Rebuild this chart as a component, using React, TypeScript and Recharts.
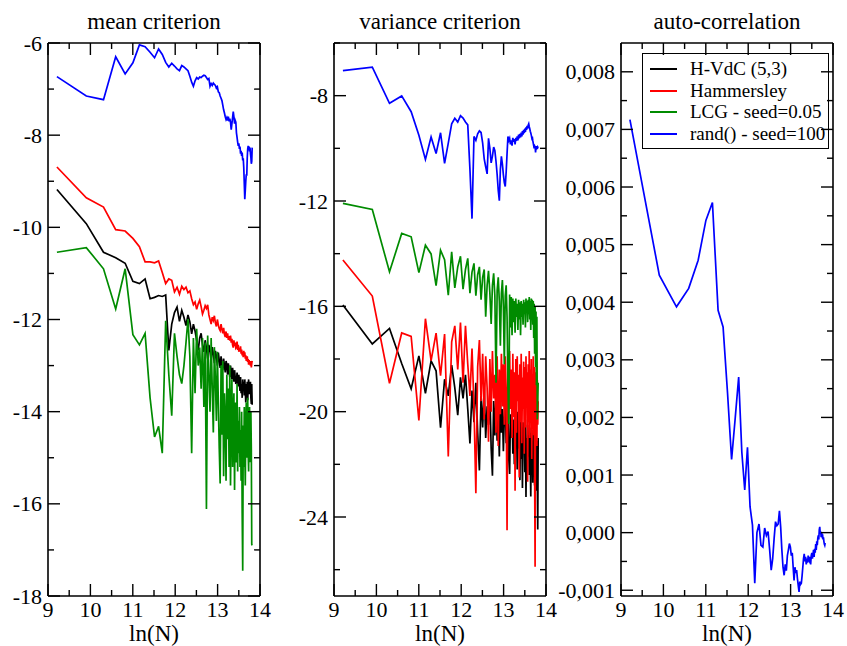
import { LineChart, Line, XAxis, YAxis, ReferenceLine, Legend } from 'recharts';

// sample sizes N = 10000 .. 1000000, plotted as ln(N)
const sampleSizes = Array.from({ length: 100 }, (_, i) => 10000 * (i + 1));
const lnN = sampleSizes.map((n) => Math.log(n));

const xMajorTicks = [9, 10, 11, 12, 13, 14];
const xMinorTicks = [9.5, 10.5, 11.5, 12.5, 13.5];

const meanMajorTicks = [-18, -16, -14, -12, -10, -8, -6];
const meanMinorTicks = [-17, -15, -13, -11, -9, -7];
const varMajorTicks = [-24, -20, -16, -12, -8];
const varMinorTicks = [-26, -22, -18, -14, -10, -6];
const autoMajorTicks = [-0.001, 0, 0.001, 0.002, 0.003, 0.004, 0.005, 0.006, 0.007, 0.008];
const autoMinorTicks = [-0.0005, 0.0005, 0.0015, 0.0025, 0.0035, 0.0045, 0.0055, 0.0065, 0.0075];

const seriesNames = ['H-VdC (5,3)', 'Hammersley', 'LCG - seed=0.05', 'rand() - seed=100'];
const seriesKeys = ['hvdc', 'ham', 'lcg', 'rand'];
const seriesColors = ['#000000', '#ff0000', '#008b00', '#0000ff'];

// mean criterion
const meanHvdc = [
  -9.18, -9.92, -10.54, -10.66, -10.78, -11.17, -11.22, -11.12, -11.55, -11.52,
  -11.48, -11.5, -11.47, -12.67, -12.1, -11.85, -11.73, -12.04, -11.8, -11.95,
  -12.13, -11.9, -12.05, -12.31, -12.1, -12.25, -12.45, -12.67, -12.4, -12.3,
  -12.55, -12.7, -12.45, -12.62, -12.85, -12.55, -12.7, -12.9, -12.6, -12.75,
  -12.95, -12.68, -12.8, -13.0, -12.72, -12.88, -13.05, -12.8, -12.95, -13.1,
  -12.85, -13.0, -13.15, -12.9, -12.98, -13.2, -12.95, -13.1, -13.25, -13.0,
  -13.15, -13.3, -13.05, -13.2, -13.35, -13.1, -13.25, -13.4, -13.33, -13.15,
  -13.3, -13.45, -13.2, -13.38, -13.55, -13.25, -13.6, -13.4, -13.7, -13.3,
  -13.5, -13.35, -13.65, -13.3, -13.55, -13.8, -13.4, -13.6, -13.35, -13.75,
  -13.45, -13.3, -13.62, -13.4, -13.55, -13.35, -13.7, -13.83, -13.4, -13.85,
];
const meanHam = [
  -8.69, -9.36, -9.56, -10.05, -10.08, -10.24, -10.42, -10.75, -10.75, -10.77,
  -10.73, -10.98, -11.22, -11.12, -11.15, -11.4, -11.3, -11.45, -11.28, -11.35,
  -11.3, -11.42, -11.38, -11.55, -11.68, -11.62, -11.78, -11.66, -11.58, -11.72,
  -11.88, -11.8, -11.7, -11.76, -11.68, -11.9, -12.0, -12.1, -11.95, -12.02,
  -11.92, -12.08, -12.15, -12.0, -12.12, -12.2, -12.24, -12.1, -12.22, -12.3,
  -12.18, -12.32, -12.38, -12.26, -12.4, -12.3, -12.44, -12.36, -12.46, -12.35,
  -12.5, -12.42, -12.55, -12.61, -12.45, -12.58, -12.5, -12.62, -12.6, -12.48,
  -12.66, -12.55, -12.7, -12.62, -12.69, -12.58, -12.74, -12.65, -12.78, -12.7,
  -12.82, -12.68, -12.76, -12.71, -12.85, -12.78, -12.9, -12.85, -12.8, -12.92,
  -12.86, -12.98, -12.88, -12.95, -12.92, -13.0, -12.9, -13.04, -12.96, -12.9,
];
const meanLcg = [
  -10.54, -10.44, -10.9, -11.77, -10.9, -12.33, -12.55, -12.3, -13.7, -14.55,
  -14.32, -14.9, -12.03, -13.2, -14.09, -12.3, -12.8, -13.2, -13.39, -13.0,
  -12.5, -11.99, -12.8, -14.9, -12.4, -13.6, -12.2, -13.0, -12.61, -13.5,
  -12.4, -13.9, -12.5, -16.11, -12.35, -13.2, -14.0, -12.4, -13.5, -14.45,
  -12.6, -13.3, -14.2, -12.7, -13.8, -14.8, -15.56, -13.0, -14.5, -12.9,
  -15.4, -13.6, -14.1, -15.5, -13.2, -14.6, -13.5, -15.2, -13.0, -15.6,
  -14.0, -13.3, -15.2, -14.1, -13.6, -15.7, -13.8, -14.6, -15.1, -13.4,
  -15.3, -14.2, -14.9, -13.9, -15.2, -14.4, -15.5, -14.0, -16.2, -17.45,
  -14.3, -15.2, -13.9, -14.8, -15.6, -14.2, -13.8, -15.0, -14.4, -13.7,
  -14.9, -15.3, -14.2, -13.9, -15.1, -14.5, -14.0, -14.8, -16.88, -16.9,
];
const meanRand = [
  -6.73, -7.15, -7.23, -6.3, -6.67, -6.43, -6.04, -6.08, -6.2, -6.32,
  -6.13, -6.25, -6.42, -6.52, -6.44, -6.5, -6.56, -6.6, -6.49, -6.52,
  -6.56, -6.6, -6.72, -6.85, -6.94, -6.82, -6.75, -6.78, -6.74, -6.75,
  -6.72, -6.7, -6.71, -6.75, -6.79, -6.77, -6.94, -6.88, -6.92, -6.87,
  -6.9, -6.92, -6.98, -6.95, -7.06, -7.08, -7.15, -7.2, -7.25, -7.35,
  -7.45, -7.52, -7.6, -7.66, -7.62, -7.68, -7.6, -7.7, -7.64, -7.72,
  -7.88, -7.75, -7.62, -7.49, -7.6, -7.75, -7.68, -7.72, -7.95, -8.05,
  -8.15, -8.23, -8.18, -8.3, -8.25, -8.4, -8.34, -8.45, -8.38, -8.55,
  -8.5, -8.7, -9.05, -9.39, -9.2, -9.0, -8.85, -8.88, -8.5, -8.3,
  -8.23, -8.3, -8.25, -8.35, -8.27, -8.4, -8.48, -8.62, -8.57, -8.27,
];

// variance criterion
const varHvdc = [
  -15.95, -17.43, -16.84, -18.17, -19.13, -17.88, -19.3, -18.07, -18.45, -20.61,
  -18.77, -19.4, -18.23, -19.1, -20.13, -18.7, -19.5, -18.6, -19.9, -21.21,
  -19.2, -20.4, -18.9, -20.8, -22.23, -19.4, -20.6, -19.1, -21.0, -19.8,
  -20.5, -19.3, -21.4, -22.43, -19.6, -20.9, -19.4, -21.1, -20.0, -21.7,
  -19.5, -20.8, -19.9, -21.5, -20.2, -19.6, -21.2, -20.4, -19.8, -21.8,
  -22.37, -20.1, -21.0, -19.7, -21.6, -20.3, -22.0, -19.9, -21.3, -20.5,
  -22.2, -20.0, -21.4, -20.7, -22.6, -20.2, -21.8, -20.6, -22.9, -20.4,
  -21.5, -20.8, -22.3, -20.3, -23.24, -21.0, -22.0, -20.5, -21.7, -20.9,
  -22.4, -20.6, -21.9, -23.22, -20.8, -22.1, -21.2, -22.7, -20.7, -21.8,
  -21.3, -22.8, -20.9, -22.2, -21.5, -23.0, -21.1, -22.4, -24.47, -21.0,
];
const varHam = [
  -14.24, -15.61, -18.92, -17.01, -17.14, -20.33, -16.47, -18.06, -17.02, -18.63,
  -17.05, -21.7, -17.35, -16.74, -18.4, -16.62, -18.9, -16.74, -18.2, -19.4,
  -17.6, -19.8, -23.1, -18.3, -17.28, -19.6, -17.8, -20.3, -17.9, -19.1,
  -21.14, -18.0, -20.0, -17.7, -19.5, -18.6, -20.8, -17.9, -21.3, -18.4,
  -20.1, -17.8, -19.8, -18.2, -20.5, -17.9, -19.2, -24.5, -18.1, -20.3,
  -17.7, -19.9, -18.4, -21.0, -17.8, -20.2, -18.5, -23.0, -18.0, -20.8,
  -17.9, -19.6, -18.6, -22.5, -18.2, -20.4, -17.8, -21.2, -18.7, -19.9,
  -18.1, -21.6, -18.3, -20.6, -17.9, -19.8, -18.5, -22.66, -18.2, -20.4,
  -17.7, -21.0, -18.4, -19.7, -18.0, -21.8, -18.6, -20.2, -17.9, -20.9,
  -18.3, -22.4, -25.89, -18.5, -20.7, -18.1, -21.3, -18.8, -20.5, -19.6,
];
const varLcg = [
  -12.09, -12.32, -14.69, -13.23, -13.36, -14.72, -13.68, -14.01, -15.21, -13.87,
  -14.23, -15.58, -13.93, -15.3, -14.5, -14.1, -15.35, -14.6, -14.18, -15.5,
  -14.7, -14.37, -15.6, -14.8, -14.5, -15.75, -14.9, -14.6, -16.39, -15.2,
  -14.65, -15.5, -16.67, -15.2, -14.75, -15.6, -18.9, -15.4, -14.9, -15.8,
  -17.5, -15.5, -15.0, -16.0, -18.2, -15.6, -15.2, -16.4, -19.0, -20.47,
  -15.55, -16.8, -15.65, -17.1, -15.7, -16.6, -15.8, -17.0, -15.7, -16.4,
  -15.9, -16.9, -15.75, -16.5, -15.85, -17.1, -15.8, -16.4, -15.9, -16.7,
  -15.75, -16.3, -15.85, -16.8, -15.7, -16.2, -15.8, -16.6, -15.75, -16.3,
  -15.65, -16.5, -15.8, -16.9, -15.7, -16.4, -15.75, -16.7, -15.8, -17.2,
  -15.9, -17.8, -16.0, -18.3, -16.2, -19.0, -16.4, -20.3, -19.5, -18.9,
];
const varRand = [
  -7.05, -6.92, -8.29, -8.01, -8.61, -9.5, -10.42, -9.57, -10.2, -9.41,
  -10.57, -9.8, -9.07, -8.86, -9.0, -8.76, -8.85, -9.0, -9.11, -10.8,
  -12.67, -9.55, -9.7, -9.45, -9.34, -9.4, -9.8, -10.4, -10.7, -10.97,
  -9.62, -10.0, -10.55, -10.3, -9.95, -10.09, -10.5, -11.0, -11.6, -11.99,
  -10.8, -10.3, -10.6, -11.0, -11.3, -11.45, -10.9, -10.2, -9.55, -9.7,
  -9.62, -9.85, -9.7, -9.9, -9.6, -9.75, -9.65, -9.85, -9.6, -9.72,
  -9.55, -9.7, -9.48, -9.62, -9.45, -9.58, -9.4, -9.55, -9.35, -9.48,
  -9.3, -9.42, -9.25, -9.38, -9.2, -9.3, -9.15, -9.25, -9.12, -9.07,
  -9.18, -9.25, -9.35, -9.42, -9.5, -9.6, -9.55, -9.7, -9.8, -9.9,
  -9.85, -10.0, -9.9, -10.16, -9.95, -10.05, -9.92, -10.02, -9.95, -9.98,
];

// auto-correlation (rand() only)
const autoRand = [
  0.00717, 0.00447, 0.00392, 0.00424, 0.00473, 0.00542, 0.00573, 0.00386, 0.00357, 0.00242,
  0.00127, 0.002, 0.0027, 0.0014, 0.00074, 0.00148, 0.00045, 0.00013, -0.00088, 0.0,
  0.00015, -0.00022, -0.00025, 0.00008, -0.00005, 0.00002, -0.0003, -0.00065, -0.00045, -0.0001,
  0.00019, 0.00012, 0.00015, 0.00038, 0.0001, -0.0003, -0.0006, -0.00074, -0.00055, -0.00066,
  -0.0004, -0.0003, -0.00019, -0.00025, -0.0004, -0.00035, -0.0006, -0.00083, -0.0006, -0.0007,
  -0.00065, -0.0008, -0.00092, -0.00103, -0.00085, -0.0009, -0.00088, -0.00075, -0.0006, -0.00045,
  -0.00037, -0.0005, -0.00042, -0.00055, -0.00045, -0.00052, -0.0004, -0.00048, -0.0005, -0.00042,
  -0.00055, -0.0004, -0.00035, -0.00045, -0.00038, -0.0003, -0.00042, -0.00028, -0.00035, -0.0002,
  -0.0003, -0.00015, -0.00022, -0.0001, -0.00005, -0.00012, 0.00005, 0.0001, -0.00002, 0.00002,
  -0.00008, 0.0, -0.00005, -0.00003, -0.00012, -0.00008, -0.00015, -0.0002, -0.00022, -0.00018,
];

const meanRows = lnN.map((x, i) => ({ x, hvdc: meanHvdc[i], ham: meanHam[i], lcg: meanLcg[i], rand: meanRand[i] }));
const varRows = lnN.map((x, i) => ({ x, hvdc: varHvdc[i], ham: varHam[i], lcg: varLcg[i], rand: varRand[i] }));
const autoRows = lnN.map((x, i) => ({ x, rand: autoRand[i] }));

const FONT = '"Liberation Serif", "Times New Roman", serif';
const CHART_H = 646;
const PLOT_TOP = 43;
const PLOT_W = 212;
const X_AXIS_H = 30;
const BOTTOM_MARGIN = 20;
const PLOT_H = CHART_H - PLOT_TOP - X_AXIS_H - BOTTOM_MARGIN;

const isIn = (list: number[], v: number) => list.some((m) => Math.abs(m - v) < 1e-9);

const LegendBox = () => (
  <div
    style={{
      width: 187,
      height: 96,
      boxSizing: 'border-box',
      border: '1.5px solid #000',
      padding: '4px 0 0 7px',
      fontFamily: FONT,
      fontSize: 19,
      color: '#000',
    }}
  >
    {seriesNames.map((name, i) => (
      <div key={name} style={{ display: 'flex', alignItems: 'center', height: 21.7 }}>
        <svg width={27} height={4} style={{ marginRight: 13 }}>
          <line x1={0} x2={27} y1={2} y2={2} stroke={seriesColors[i]} strokeWidth={2} />
        </svg>
        <span style={{ lineHeight: '21.7px', whiteSpace: 'nowrap' }}>{name}</span>
      </div>
    ))}
  </div>
);

interface PanelProps {
  left: number;
  width: number;
  yAxisWidth: number;
  title: string;
  domain: [number, number];
  majors: number[];
  minors: number[];
  fmt: (v: number) => string;
  rows: any[];
  keys: string[];
  legendLeft?: number;
}

function Panel({ left, width, yAxisWidth, title, domain, majors, minors, fmt, rows, keys, legendLeft }: PanelProps) {
  const rightMargin = width - yAxisWidth - PLOT_W;
  const yTicks = [...majors, ...minors].sort((a, b) => a - b);
  const xTicks = [...xMajorTicks, ...xMinorTicks].sort((a, b) => a - b);

  const yTick = (props: any) => {
    const { x, y, payload } = props;
    const major = isIn(majors, payload.value);
    const len = major ? 12 : 6;
    return (
      <g>
        <line x1={x} x2={x + len} y1={y} y2={y} stroke="#000" strokeWidth={1.4} />
        <line x1={x + PLOT_W - len} x2={x + PLOT_W} y1={y} y2={y} stroke="#000" strokeWidth={1.4} />
        {major && (
          <text x={x - 6} y={y + 7.5} textAnchor="end" fontSize={22} fontFamily={FONT} fill="#000">
            {fmt(payload.value)}
          </text>
        )}
      </g>
    );
  };

  const xTick = (props: any) => {
    const { x, y, payload } = props;
    const major = isIn(xMajorTicks, payload.value);
    const len = major ? 12 : 6;
    return (
      <g>
        <line x1={x} x2={x} y1={y} y2={y - len} stroke="#000" strokeWidth={1.4} />
        <line x1={x} x2={x} y1={y - PLOT_H} y2={y - PLOT_H + len} stroke="#000" strokeWidth={1.4} />
        {major && (
          <text x={x} y={y + 21} textAnchor="middle" fontSize={22} fontFamily={FONT} fill="#000">
            {payload.value}
          </text>
        )}
      </g>
    );
  };

  return (
    <div style={{ position: 'absolute', left, top: 0 }}>
      <LineChart
        width={width}
        height={CHART_H}
        data={rows}
        margin={{ top: PLOT_TOP, right: rightMargin, bottom: BOTTOM_MARGIN, left: 0 }}
      >
        <XAxis
          type="number"
          dataKey="x"
          domain={[9, 14]}
          ticks={xTicks}
          interval={0}
          allowDataOverflow
          height={X_AXIS_H}
          tickSize={0}
          tickMargin={0}
          tickLine={false}
          axisLine={{ stroke: '#000', strokeWidth: 1.6 }}
          tick={xTick}
        />
        <YAxis
          type="number"
          domain={domain}
          ticks={yTicks}
          interval={0}
          allowDataOverflow
          width={yAxisWidth}
          tickSize={0}
          tickMargin={0}
          tickLine={false}
          axisLine={{ stroke: '#000', strokeWidth: 1.6 }}
          tick={yTick}
        />
        <ReferenceLine y={domain[1]} stroke="#000" strokeWidth={1.6} />
        <ReferenceLine x={14} stroke="#000" strokeWidth={1.6} />
        {keys.map((k) => {
          const idx = seriesKeys.indexOf(k);
          return (
            <Line
              key={k}
              type="linear"
              dataKey={k}
              name={seriesNames[idx]}
              stroke={seriesColors[idx]}
              strokeWidth={1.7}
              dot={false}
              activeDot={false}
              isAnimationActive={false}
            />
          );
        })}
        {legendLeft !== undefined && (
          <Legend
            layout="vertical"
            align="center"
            verticalAlign="middle"
            wrapperStyle={{ left: legendLeft, top: 53, width: 'auto' }}
            content={() => <LegendBox />}
          />
        )}
        <text x={yAxisWidth + PLOT_W / 2} y={29} textAnchor="middle" fontSize={23} fontFamily={FONT} fill="#000">
          {title}
        </text>
        <text
          x={yAxisWidth + PLOT_W / 2}
          y={PLOT_TOP + PLOT_H + 45}
          textAnchor="middle"
          fontSize={23}
          fontFamily={FONT}
          fill="#000"
        >
          ln(N)
        </text>
      </LineChart>
    </div>
  );
}

const autoFmt = (v: number) => (Math.abs(v) < 1e-12 ? '0,000' : v.toFixed(3).replace('.', ','));

export default function App() {
  return (
    <div style={{ position: 'absolute', left: 0, top: 0, width: 847, height: 646, background: '#fff' }}>
      <Panel
        left={0}
        width={272}
        yAxisWidth={48}
        title="mean criterion"
        domain={[-18, -6]}
        majors={meanMajorTicks}
        minors={meanMinorTicks}
        fmt={(v) => String(v)}
        rows={meanRows}
        keys={seriesKeys}
      />
      <Panel
        left={280}
        width={282}
        yAxisWidth={54}
        title="variance criterion"
        domain={[-27, -6]}
        majors={varMajorTicks}
        minors={varMinorTicks}
        fmt={(v) => String(v)}
        rows={varRows}
        keys={seriesKeys}
      />
      <Panel
        left={550}
        width={297}
        yAxisWidth={71}
        title="auto-correlation"
        domain={[-0.0011, 0.0085]}
        majors={autoMajorTicks}
        minors={autoMinorTicks}
        fmt={autoFmt}
        rows={autoRows}
        keys={['rand']}
        legendLeft={92}
      />
    </div>
  );
}
